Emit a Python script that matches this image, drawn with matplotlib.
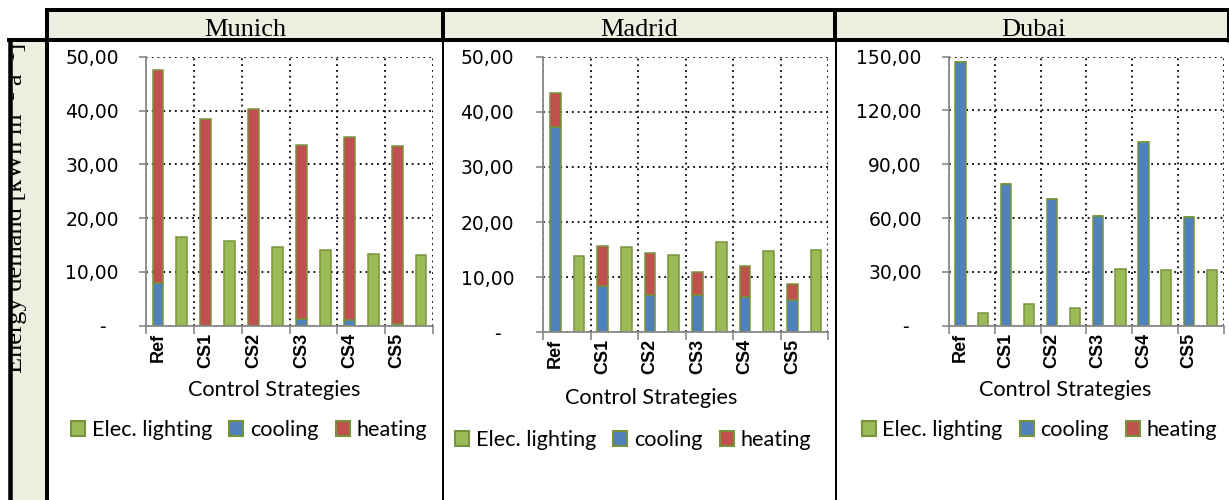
import numpy as np
import matplotlib
matplotlib.use("Agg")
import matplotlib.pyplot as plt
from matplotlib.patches import Rectangle, Patch
from matplotlib.font_manager import FontProperties

# ---------------- data ----------------
strategies = ["Ref", "CS1", "CS2", "CS3", "CS4", "CS5"]
cities = ["Munich", "Madrid", "Dubai"]
series_names = ["Elec. lighting", "cooling", "heating"]

munich_cooling = [8.0, 0.0, 0.0, 1.3, 1.1, 0.4]
munich_heating = [39.5, 38.5, 40.2, 32.3, 34.0, 33.0]
munich_lighting = [16.5, 15.8, 14.6, 14.1, 13.4, 13.1]

madrid_cooling = [37.3, 8.4, 6.7, 6.7, 6.4, 5.8]
madrid_heating = [6.2, 7.3, 7.7, 4.3, 5.6, 3.0]
madrid_lighting = [13.9, 15.5, 14.1, 16.3, 14.8, 14.9]

dubai_cooling = [146.9, 79.1, 70.6, 61.3, 102.2, 60.6]
dubai_heating = [0.0, 0.0, 0.0, 0.0, 0.0, 0.0]
dubai_lighting = [6.9, 11.9, 9.6, 31.7, 30.9, 31.1]

y_max = [50, 50, 150]
y_step = [10, 10, 30]

# ---------------- style ----------------
W, H = 1229, 500
GREEN = "#9BBB59"
BLUE = "#4F81BD"
RED = "#C0504D"
EDGE = "#77933C"
GRAY = "#898989"
CELL = "#EBEFDF"
PX = 72 / 100.0  # points per pixel

fig = plt.figure(figsize=(W / 100, H / 100), dpi=100)
fig.patch.set_facecolor("white")


def fx(x):
    return x / W


def fy(y):
    return 1 - y / H


# background / table
bg = fig.add_axes([0, 0, 1, 1])
bg.set_xlim(0, W)
bg.set_ylim(H, 0)
bg.axis("off")
bg.add_patch(Rectangle((47, 10), W - 47, 30, facecolor=CELL, edgecolor="none"))
bg.add_patch(Rectangle((9.5, 40), 37.5, H - 40, facecolor=CELL, edgecolor="none"))


def hline(x0, x1, y, px):
    bg.plot([x0, x1], [y, y], color="black", lw=px * PX, solid_capstyle="butt")


def vline(x, y0, y1, px):
    bg.plot([x, x], [y0, y1], color="black", lw=px * PX, solid_capstyle="butt")


hline(45, W, 10, 4)
hline(7, W, 40, 4)
vline(47, 8, H, 4)
vline(9.5, 38, H, 4.5)
vline(442.7, 8, 42, 4)
vline(442.5, 42, H, 2)
vline(835, 8, 42, 4)
vline(836, 42, H, 2)
vline(1227.5, 8, 42, 3)

header_cx = [245, 639.5, 1033]
for name, cx in zip(cities, header_cx):
    bg.text(cx, 36, name, ha="center", va="baseline",
            family="Liberation Serif", fontsize=19)

# left column rotated (clipped) label
lc = fig.add_axes([fx(11.7), fy(H), (45 - 11.7) / W, (H - 42) / H])
lc.set_xlim(11.7, 45)
lc.set_ylim(H, 42)
lc.axis("off")
lc.text(22, 373, "Energy demand [kWh m\u207b\u00b2 a\u207b\u00b9]", rotation=90,
        rotation_mode="anchor", ha="left", va="baseline",
        family=["Liberation Serif", "DejaVu Serif"], fontsize=19, clip_on=True)

# ---------------- charts ----------------
data = [
    (munich_cooling, munich_heating, munich_lighting),
    (madrid_cooling, madrid_heating, madrid_lighting),
    (dubai_cooling, dubai_heating, dubai_lighting),
]
plot_boxes = [  # left, right, top, bottom in pixels
    (146, 433, 56.7, 325.7),
    (543.3, 828, 56.7, 332.3),
    (949, 1223.5, 56.7, 325.7),
]
ylabel_pad = [14.5, 16, 14.5]
xlabel_pos = [(274, 396.5), (651, 404), (1065, 396)]
legend_pos = [(249, 430), (633, 440), (1039.5, 430)]

leg_font = FontProperties(family="Lato", size=15.6)


def fmt(v):
    if v == 0:
        return "-  "
    return ("%.2f" % v).replace(".", ",")


for i, (cool, heat, light) in enumerate(data):
    l, r, t, b = plot_boxes[i]
    ax = fig.add_axes([fx(l), fy(b), (r - l) / W, (b - t) / H])
    ax.set_facecolor("none")
    n = len(strategies)
    pos_main = np.arange(n) * 2
    pos_light = pos_main + 1
    cool = np.array(cool)
    heat = np.array(heat)
    bw = 0.45
    ax.bar(pos_main, cool, width=bw, color=BLUE, edgecolor=EDGE, lw=1.1, zorder=3)
    ax.bar(pos_main, heat, width=bw, bottom=cool, color=RED, edgecolor=EDGE,
           lw=1.1, zorder=3)
    ax.bar(pos_light, light, width=bw, color=GREEN, edgecolor=EDGE, lw=1.1, zorder=3)

    ax.set_xlim(-0.5, 2 * n - 0.5)
    ax.set_ylim(0, y_max[i])
    yt = np.arange(0, y_max[i] + 0.001, y_step[i])
    ax.set_yticks(yt)
    ax.set_yticklabels([fmt(v) for v in yt], family="DejaVu Sans", fontsize=13.5)
    ax.set_xticks(pos_main)
    ax.set_xticklabels(strategies, rotation=90, family="Liberation Sans",
                       fontweight="bold", fontsize=13, va="top", ha="center")
    ax.set_xticks(np.arange(-0.5, 2 * n, 2), minor=True)
    ax.tick_params(axis="x", which="major", length=0, pad=5)
    ax.tick_params(axis="x", which="minor", length=6 * PX * 1.4, width=1.2,
                   color=GRAY, direction="out")
    ax.tick_params(axis="y", which="major", length=5 * PX * 1.4, width=1.2,
                   color=GRAY, direction="out", pad=ylabel_pad[i])

    ax.set_axisbelow(True)
    ax.grid(False)
    ax.grid(True, which="major", axis="y", color="black",
            linestyle=(0, (1, 2.2)), lw=1.3)
    ax.grid(True, which="minor", axis="x", color="black",
            linestyle=(0, (1, 2.2)), lw=1.3)

    for s in ["top", "right"]:
        ax.spines[s].set_visible(False)
    for s in ["left", "bottom"]:
        ax.spines[s].set_color(GRAY)
        ax.spines[s].set_linewidth(1.3)
        ax.spines[s].set_zorder(4)

    xl, yl = xlabel_pos[i]
    fig.text(fx(xl), fy(yl), "Control Strategies", ha="center", va="baseline",
             fontproperties=leg_font)

    handles = [
        Patch(facecolor=GREEN, edgecolor=EDGE, lw=1.5),
        Patch(facecolor=BLUE, edgecolor=EDGE, lw=1.5),
        Patch(facecolor=RED, edgecolor=EDGE, lw=1.5),
    ]
    lx, ly = legend_pos[i]
    ax.legend(handles, series_names, loc="center",
              bbox_to_anchor=(fx(lx), fy(ly)), bbox_transform=fig.transFigure,
              ncol=3, frameon=False, handlelength=0.65, handleheight=0.65,
              handletextpad=0.3, columnspacing=0.8, prop=leg_font,
              borderpad=0, borderaxespad=0)

fig.savefig("out.png", dpi=100)
